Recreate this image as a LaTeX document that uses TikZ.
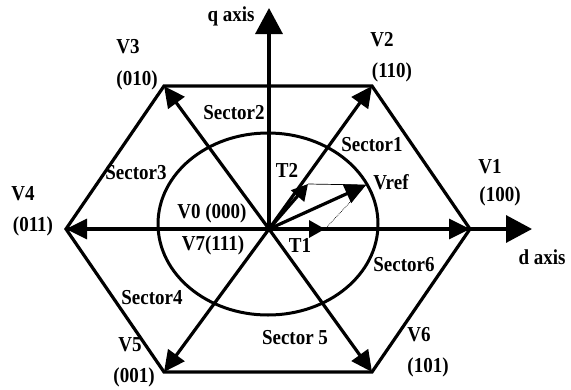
\documentclass[tikz,border=0pt]{standalone}
\usepackage{fontspec}
\setmainfont{Liberation Serif}
\usetikzlibrary{arrows.meta}

\begin{document}
\begin{tikzpicture}[x=1pt, y=-1pt,
  lbl/.style={font=\bfseries\fontsize{19}{19}\selectfont, inner sep=0pt, yscale=1.12, transform shape},
  hexline/.style={line width=3.2pt, line join=miter},
  vec/.style={line width=3.2pt, -{Triangle[length=21pt,width=20pt]}},
  axis/.style={line width=3.4pt, -{Triangle[length=26pt,width=27pt]}},
  small vec/.style={line width=3.2pt, -{Triangle[length=16pt,width=17pt]}},
  thin line/.style={line width=0.7pt},
]
\useasboundingbox (0,0) rectangle (571,389);
% vertices of the hexagon
\coordinate (O) at (269,229);
\coordinate (V1) at (470,229);
\coordinate (V2) at (372,86);
\coordinate (V3) at (164,86);
\coordinate (V4) at (66,229);
\coordinate (V5) at (164,372);
\coordinate (V6) at (372,372);
\coordinate (qend) at (269,8);
\coordinate (dend) at (532,229);
\coordinate (T1) at (325,229);
\coordinate (T2) at (308,184);
\coordinate (Vr) at (366,185);

\draw[line width=3pt] (268,224) ellipse [x radius=110, y radius=91];
\draw[hexline] (V1) -- (V2) -- (V3) -- (V4) -- (V5) -- (V6) -- cycle;

% axes
\draw[axis] (V4) -- (dend);
\draw[axis] (O) -- (qend);

% switching vectors
\foreach \v in {V1,V2,V3,V4,V5,V6}
  \draw[vec] (O) -- (\v);

% reference vector and its parts
\draw[thin line] (T2) -- (Vr);
\draw[thin line, densely dotted] (T1) -- (Vr);
\draw[small vec] (O) -- (T1);
\draw[small vec] (O) -- (T2);
\draw[vec] (O) -- (Vr);

% labels
\node[lbl] (qlab) at (231,16) {q axis};
\node[lbl] (dlab) at (542,257) {d axis};
\node[lbl] (v1) at (490,167) {V1};
\node[lbl] (c1) at (500,196) {(100)};
\node[lbl] (v2) at (382,40) {V2};
\node[lbl] (c2) at (392,72) {(110)};
\node[lbl] (v3) at (128,47) {V3};
\node[lbl] (c3) at (137,80) {(010)};
\node[lbl] (v4) at (23,194) {V4};
\node[lbl] (c4) at (33,226) {(011)};
\node[lbl] (v5) at (130,345) {V5};
\node[lbl] (c5) at (134,377) {(001)};
\node[lbl] (v6) at (419,335) {V6};
\node[lbl] (c6) at (428,367) {(101)};
\node[lbl] (v0) at (212,213) {V0 (000)};
\node[lbl] (v7) at (213,245) {V7(111)};
\node[lbl] (s1) at (372,145) {Sector1};
\node[lbl] (s2) at (234,113) {Sector2};
\node[lbl] (s3) at (136,173) {Sector3};
\node[lbl] (s4) at (152,298) {Sector4};
\node[lbl] (s5) at (295,338) {Sector 5};
\node[lbl] (s6) at (404,265) {Sector6};
\node[lbl] (t1) at (300,245) {T1};
\node[lbl] (t2) at (287,170) {T2};
\node[lbl] (vref) at (391,182) {Vref};
\end{tikzpicture}
\end{document}
